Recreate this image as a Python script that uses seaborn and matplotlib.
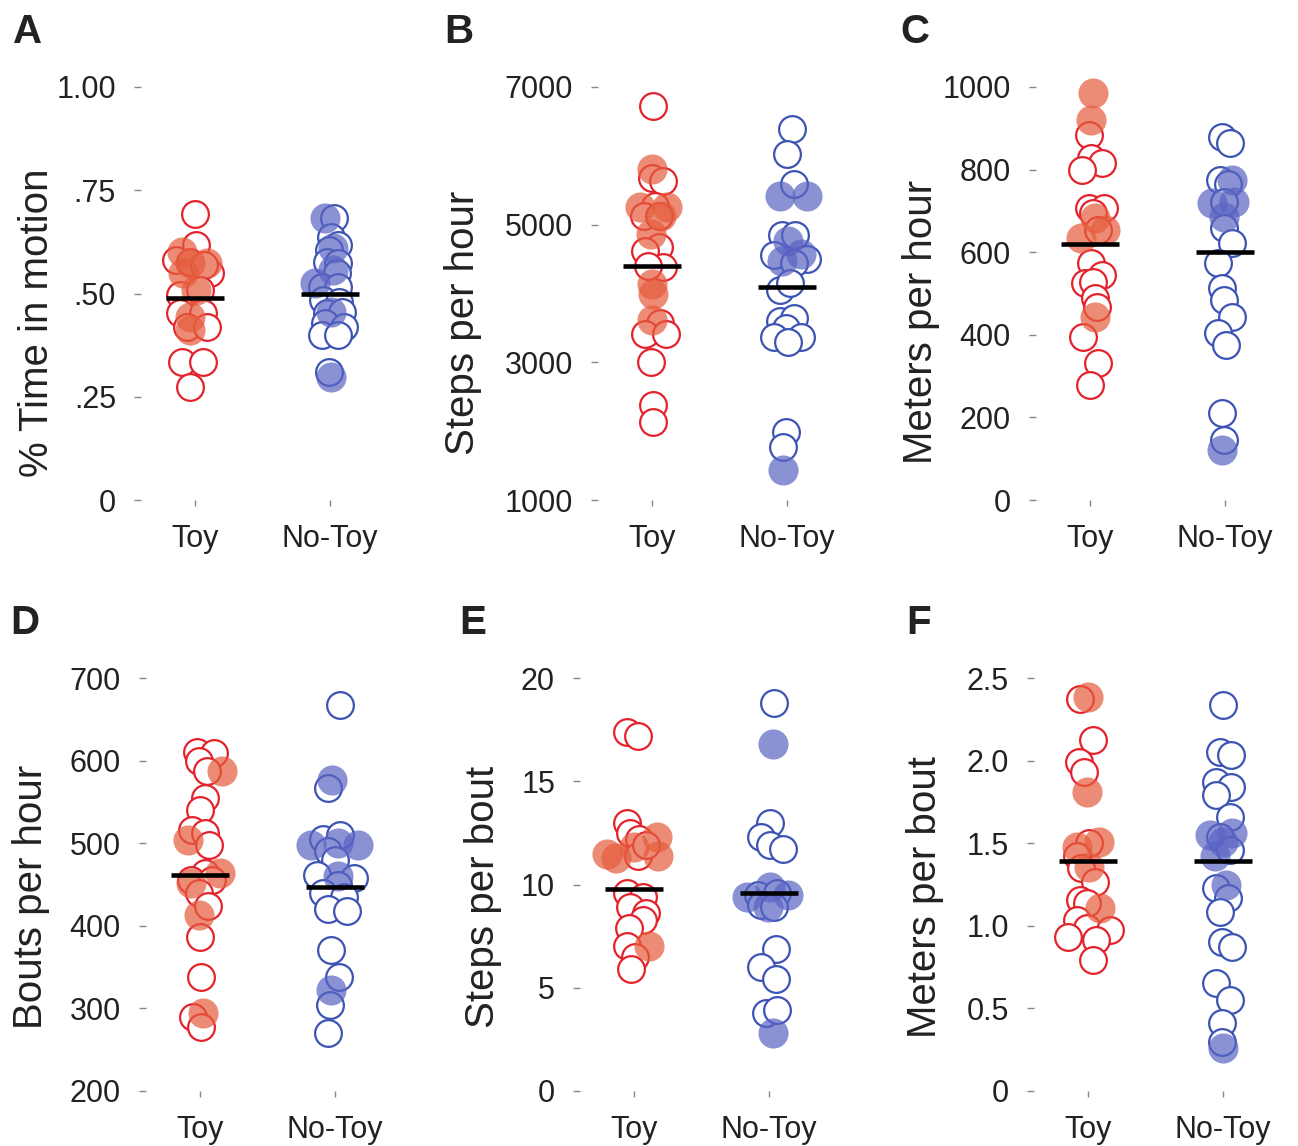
import numpy as np
import matplotlib.pyplot as plt
import seaborn as sns

groups = ['Toy', 'No-Toy']

# A: % time in motion
a_toy_open = [0.692, 0.617, 0.581, 0.577, 0.549, 0.569, 0.496, 0.508, 0.452, 0.452, 0.420, 0.420, 0.335, 0.335, 0.273]
a_toy_open_dx = [0.00, 0.01, -0.14, -0.04, 0.11, 0.07, -0.11, 0.04, -0.11, 0.06, -0.06, 0.09, -0.10, 0.06, -0.04]
a_toy_fill = [0.601, 0.573, 0.573, 0.549, 0.508, 0.444, 0.412]
a_toy_fill_dx = [-0.10, 0.09, -0.04, -0.09, 0.01, -0.04, -0.04]
a_nt_open = [0.682, 0.638, 0.617, 0.605, 0.577, 0.573, 0.549, 0.516, 0.516, 0.484, 0.480, 0.452, 0.456, 0.428, 0.420, 0.400, 0.400, 0.311]
a_nt_open_dx = [0.03, 0.01, 0.06, -0.01, -0.02, 0.06, 0.05, -0.06, 0.06, -0.05, 0.07, -0.02, 0.09, -0.04, 0.10, -0.06, 0.06, -0.01]
a_nt_fill = [0.682, 0.609, 0.557, 0.525, 0.456, 0.299]
a_nt_fill_dx = [-0.04, 0.02, 0.02, -0.11, 0.01, 0.01]
a_means = [0.49, 0.50]

# B: steps per hour
b_toy_open = [6724, 5685, 5637, 5275, 5130, 5130, 4670, 4622, 4380, 4400, 3565, 3415, 3415, 3005, 2377, 2135]
b_toy_open_dx = [0.01, 0.00, 0.08, 0.02, -0.06, 0.05, 0.05, -0.05, 0.08, -0.03, 0.06, -0.05, 0.10, -0.01, 0.01, 0.01]
b_toy_fill = [5806, 5250, 5250, 5130, 4865, 4140, 3995, 3608]
b_toy_fill_dx = [0.00, -0.09, 0.11, 0.07, -0.01, 0.00, 0.01, 0.00]
b_nt_open = [6385, 6023, 5590, 4855, 4855, 4560, 4500, 4450, 4050, 4150, 3600, 3650, 3500, 3375, 3375, 3300, 1990, 1770]
b_nt_open_dx = [0.04, 0.00, 0.05, -0.04, 0.06, -0.10, 0.15, 0.05, -0.05, 0.02, -0.05, 0.05, -0.01, -0.10, 0.10, 0.01, -0.01, -0.03]
b_nt_fill = [5420, 5420, 4767, 4580, 4478, 1435]
b_nt_fill_dx = [-0.05, 0.15, 0.01, 0.10, -0.04, -0.03]
b_means = [4400, 4100]

# C: meters per hour
c_toy_open = [884, 828, 816, 799, 707, 707, 695, 654, 573, 545, 525, 528, 489, 467, 395, 331, 278]
c_toy_open_dx = [-0.01, 0.01, 0.09, -0.06, -0.01, 0.10, 0.02, 0.06, 0.01, 0.09, -0.04, 0.02, 0.04, 0.05, -0.05, 0.06, 0.00]
c_toy_fill = [985, 920, 683, 654, 634, 444]
c_toy_fill_dx = [0.02, 0.01, 0.04, 0.11, -0.07, 0.04]
c_nt_open = [880, 864, 775, 765, 722, 658, 622, 573, 513, 484, 444, 404, 375, 210, 145]
c_nt_open_dx = [-0.02, 0.04, -0.04, 0.02, -0.01, -0.01, 0.05, -0.05, -0.02, -0.01, 0.05, -0.05, 0.01, -0.02, -0.01]
c_nt_fill = [775, 719, 722, 686, 121]
c_nt_fill_dx = [0.05, -0.10, 0.07, -0.01, -0.02]
c_means = [620, 600]

# D: bouts per hour
d_toy_open = [611, 609, 599, 587, 555, 540, 516, 512, 498, 464, 455, 455, 440, 424, 387, 338, 290, 278]
d_toy_open_dx = [-0.02, 0.10, -0.01, 0.05, 0.04, 0.00, -0.06, 0.04, 0.07, 0.04, -0.07, 0.09, -0.01, 0.06, 0.00, 0.01, -0.05, 0.01]
d_toy_fill = [587, 504, 464, 452, 413, 294]
d_toy_fill_dx = [0.16, -0.09, 0.15, -0.07, -0.01, 0.02]
d_nt_open = [667, 567, 505, 510, 490, 480, 462, 458, 450, 440, 435, 420, 418, 371, 338, 304, 270]
d_nt_open_dx = [0.04, -0.05, -0.09, 0.04, -0.05, 0.00, -0.13, 0.14, 0.02, -0.09, 0.07, -0.05, 0.09, -0.03, 0.03, -0.04, -0.05]
d_nt_fill = [576, 498, 500, 498, 460, 322]
d_nt_fill_dx = [-0.02, -0.18, 0.02, 0.17, 0.02, -0.03]
d_means = [462, 447]

# E: steps per bout
e_toy_open = [17.4, 17.2, 13.0, 12.5, 12.2, 11.4, 11.9, 9.6, 9.4, 8.9, 8.6, 8.3, 7.9, 7.0, 6.5, 5.9]
e_toy_open_dx = [-0.05, 0.03, -0.05, -0.03, 0.04, 0.03, 0.09, -0.05, 0.07, -0.03, 0.09, 0.07, -0.04, -0.05, 0.01, -0.02]
e_toy_fill = [12.3, 11.5, 11.3, 11.8, 11.4, 7.0]
e_toy_fill_dx = [0.17, -0.20, -0.13, 0.00, 0.18, 0.11]
e_nt_open = [18.8, 13.0, 12.3, 11.9, 11.7, 9.5, 9.6, 9.0, 8.9, 6.9, 6.0, 5.4, 3.8, 3.9]
e_nt_open_dx = [0.04, 0.01, -0.06, 0.01, 0.10, -0.08, 0.06, -0.06, 0.04, 0.05, -0.06, 0.05, -0.02, 0.06]
e_nt_fill = [16.8, 9.4, 9.9, 9.5, 8.9, 2.8]
e_nt_fill_dx = [0.03, -0.16, 0.01, 0.14, -0.01, 0.03]
e_means = [9.8, 9.6]

# F: meters per bout
f_toy_open = [2.37, 2.125, 1.993, 1.933, 1.50, 1.42, 1.35, 1.267, 1.156, 1.136, 1.035, 0.987, 0.975, 0.934, 0.914, 0.793]
f_toy_open_dx = [-0.06, 0.04, -0.07, -0.03, 0.01, -0.08, -0.05, 0.05, -0.06, -0.01, -0.08, -0.01, 0.16, -0.15, 0.06, 0.04]
f_toy_fill = [2.387, 1.812, 1.479, 1.509, 1.358, 1.107]
f_toy_fill_dx = [0.00, -0.01, -0.08, 0.08, 0.01, 0.09]
f_nt_open = [2.337, 2.054, 2.034, 1.872, 1.842, 1.792, 1.66, 1.54, 1.46, 1.23, 1.17, 1.085, 0.904, 0.874, 0.654, 0.551, 0.411, 0.298]
f_nt_open_dx = [0.00, -0.02, 0.06, -0.05, 0.06, -0.05, 0.05, -0.02, 0.05, -0.05, 0.04, -0.02, -0.01, 0.07, -0.05, 0.05, -0.01, -0.01]
f_nt_fill = [1.55, 1.56, 1.51, 1.42, 1.247, 0.26]
f_nt_fill_dx = [-0.10, 0.07, 0.00, -0.06, 0.02, 0.00]
f_means = [1.39, 1.39]

sns.set_style('white')
plt.rcParams['font.family'] = ['Liberation Sans', 'DejaVu Sans']

red_edge = '#e3222b'
red_fill = '#e55c3c'
blue_edge = '#3b53b3'
blue_fill = '#5a64c3'

W, H = 1298, 1146
fig = plt.figure(figsize=(W / 100, H / 100), dpi=100)


def panel(left_px, top_px, letter, letter_x, ylabel, lab_x, lab_y,
          ylim, yticks, yticklabels, data, means):
    ax = fig.add_axes([left_px / W, 1 - (top_px + 413) / H, 243 / W, 413 / H])
    (to, tod, tf, tfd, no, nod, nf, nfd) = data
    # open circles first, filled ones on top
    for i, (vals, dx, ec) in enumerate([(to, tod, red_edge), (no, nod, blue_edge)]):
        sns.scatterplot(x=i + np.array(dx), y=vals, ax=ax, s=370, color='white',
                        edgecolor=ec, linewidth=1.6, legend=False, clip_on=False, zorder=2)
    for i, (vals, dx, fc) in enumerate([(tf, tfd, red_fill), (nf, nfd, blue_fill)]):
        sns.scatterplot(x=i + np.array(dx), y=vals, ax=ax, s=470, color=fc,
                        linewidth=0, alpha=0.7, legend=False, clip_on=False, zorder=3)
    ax.hlines(means, np.arange(2) - 0.215, np.arange(2) + 0.215, color='black',
              lw=3.3, zorder=4, clip_on=False)
    ax.set_xlim(-0.4, 1.4)
    ax.set_ylim(*ylim)
    ax.set_xticks([0, 1])
    ax.set_xticklabels(groups)
    ax.set_yticks(yticks)
    ax.set_yticklabels(yticklabels)
    ax.tick_params(axis='y', direction='out', length=5, width=1, color='#888888',
                   pad=13, labelsize=22, labelcolor='#222222', left=True)
    ax.tick_params(axis='x', direction='out', length=4, width=1, color='#888888',
                   pad=13, labelsize=22, labelcolor='#222222', bottom=True)
    sns.despine(ax=ax, left=True, bottom=True)
    ax.set_ylabel(ylabel, fontsize=29, color='#222222', va='center')
    ax.yaxis.set_label_coords(lab_x, lab_y)
    ax.set_xlabel('')
    fig.text(letter_x / W, 1 - (top_px - 44) / H, letter, fontsize=29,
             fontweight='bold', color='#222222', va='baseline')
    return ax


panel(141, 87, 'A', 13, '% Time in motion', -0.43, 0.43, (0, 1),
      [0, 0.25, 0.5, 0.75, 1.0], ['0', '.25', '.50', '.75', '1.00'],
      (a_toy_open, a_toy_open_dx, a_toy_fill, a_toy_fill_dx,
       a_nt_open, a_nt_open_dx, a_nt_fill, a_nt_fill_dx), a_means)
panel(598, 87, 'B', 444, 'Steps per hour', -0.555, 0.43, (1000, 7000),
      [1000, 3000, 5000, 7000], ['1000', '3000', '5000', '7000'],
      (b_toy_open, b_toy_open_dx, b_toy_fill, b_toy_fill_dx,
       b_nt_open, b_nt_open_dx, b_nt_fill, b_nt_fill_dx), b_means)
panel(1036, 87, 'C', 900, 'Meters per hour', -0.475, 0.43, (0, 1000),
      [0, 200, 400, 600, 800, 1000], ['0', '200', '400', '600', '800', '1000'],
      (c_toy_open, c_toy_open_dx, c_toy_fill, c_toy_fill_dx,
       c_nt_open, c_nt_open_dx, c_nt_fill, c_nt_fill_dx), c_means)
panel(146, 678, 'D', 10, 'Bouts per hour', -0.475, 0.47, (200, 700),
      [200, 300, 400, 500, 600, 700], ['200', '300', '400', '500', '600', '700'],
      (d_toy_open, d_toy_open_dx, d_toy_fill, d_toy_fill_dx,
       d_nt_open, d_nt_open_dx, d_nt_fill, d_nt_fill_dx), d_means)
panel(580, 678, 'E', 459, 'Steps per bout', -0.40, 0.47, (0, 20),
      [0, 5, 10, 15, 20], ['0', '5', '10', '15', '20'],
      (e_toy_open, e_toy_open_dx, e_toy_fill, e_toy_fill_dx,
       e_nt_open, e_nt_open_dx, e_nt_fill, e_nt_fill_dx), e_means)
panel(1034, 678, 'F', 906, 'Meters per bout', -0.45, 0.47, (0, 2.5),
      [0, 0.5, 1.0, 1.5, 2.0, 2.5], ['0', '0.5', '1.0', '1.5', '2.0', '2.5'],
      (f_toy_open, f_toy_open_dx, f_toy_fill, f_toy_fill_dx,
       f_nt_open, f_nt_open_dx, f_nt_fill, f_nt_fill_dx), f_means)

fig.savefig('out.png', dpi=100)
